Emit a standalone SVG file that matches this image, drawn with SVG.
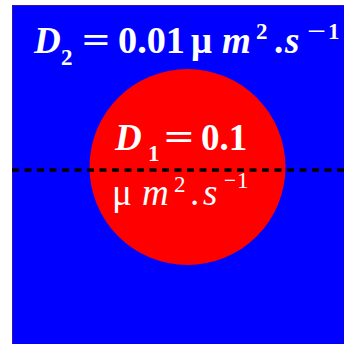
<svg xmlns="http://www.w3.org/2000/svg" width="344" height="344" viewBox="0 0 344 344">
<style>
text{font-family:"Liberation Serif","Times New Roman",serif;fill:#fff}
.b{font-weight:bold}
.i{font-style:italic}
.big{font-size:37px}
.sm{font-size:23px}
</style>
<rect x="0" y="0" width="344" height="344" fill="#fff"/>
<g id="domain">
<rect x="12" y="5" width="332" height="339" fill="#0000ff"/>
<path d="M12.5,344 V5.5 H344" fill="none" stroke="#3a10b0" stroke-width="1"/>
</g>
<g id="inclusion">
<circle cx="187.5" cy="167" r="98" fill="#ff0000"/>
</g>
<g id="connectors">
<line x1="12" y1="170" x2="344" y2="170" stroke="#000" stroke-width="3.5" stroke-dasharray="7 5.5"/>
</g>
<g id="label-D2" class="b">
<text class="big i" x="34" y="53">D</text>
<text class="sm" x="61" y="65">2</text>
<text class="big" x="82" y="53" textLength="28" lengthAdjust="spacingAndGlyphs">=</text>
<text class="big" x="118" y="53" textLength="67" lengthAdjust="spacingAndGlyphs">0.01</text>
<text class="big" x="191" y="53">μ</text>
<text class="big i" x="222" y="53">m</text>
<text class="sm" x="256" y="39">2</text>
<text class="big" x="274" y="53">.</text>
<text class="big i" x="285" y="53">s</text>
<text class="sm" x="307" y="39" textLength="19" lengthAdjust="spacingAndGlyphs">−</text>
<text class="sm" x="328" y="39">1</text>
</g>
<g id="label-D1" class="b">
<text class="big i" x="115" y="150">D</text>
<text class="sm" x="148" y="161">1</text>
<text class="big" x="164" y="150" textLength="30" lengthAdjust="spacingAndGlyphs">=</text>
<text class="big" x="201" y="150">0.1</text>
</g>
<g id="label-units">
<text class="big" x="112" y="205">μ</text>
<text class="big i" x="142" y="205">m</text>
<text class="sm" x="174" y="192">2</text>
<text class="big" x="190" y="205">.</text>
<text class="big i" x="203" y="205">s</text>
<text class="sm" x="224" y="188" textLength="12" lengthAdjust="spacingAndGlyphs">−</text>
<text class="sm" x="237" y="188">1</text>
</g>
</svg>
